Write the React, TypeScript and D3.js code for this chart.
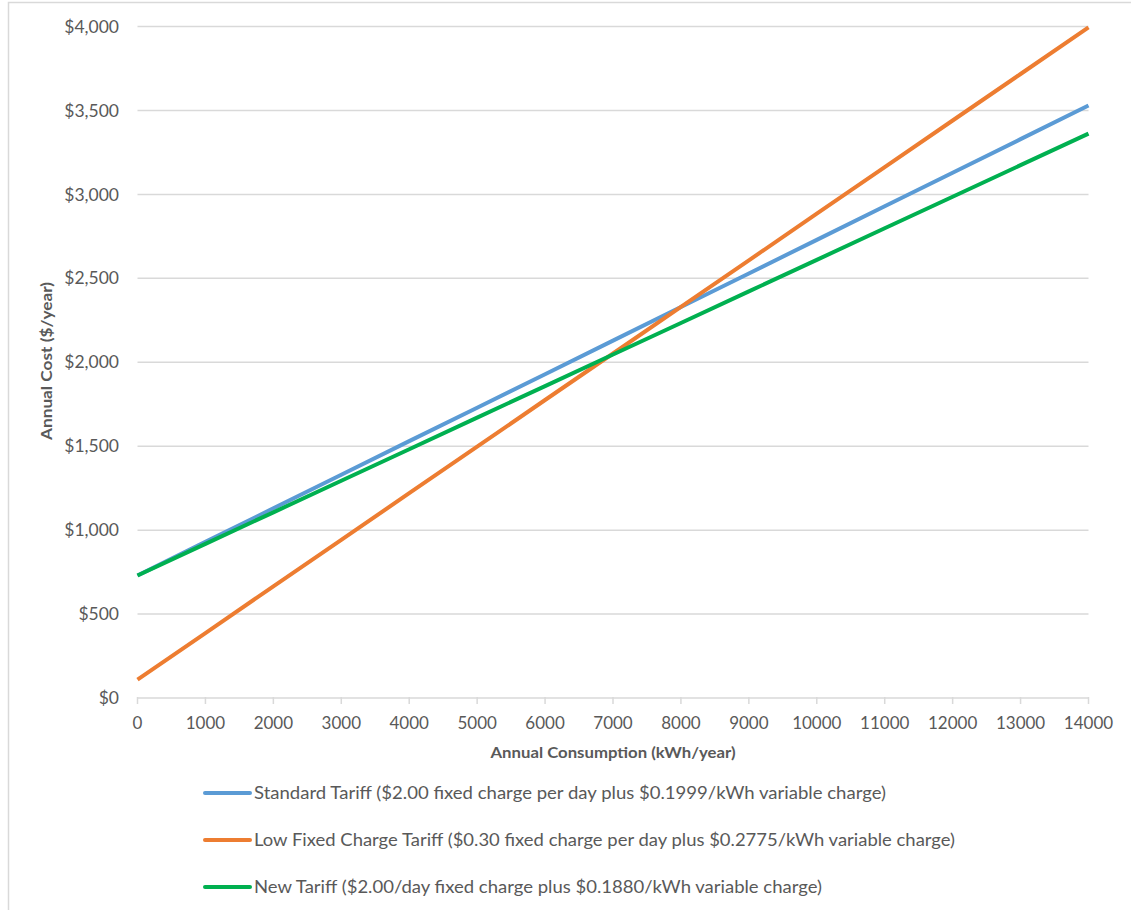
import React from "react";
import * as d3 from "d3";

const consumption = [0, 1000, 2000, 3000, 4000, 5000, 6000, 7000, 8000, 9000, 10000, 11000, 12000, 13000, 14000];
const standardTariff = [730, 930, 1130, 1330, 1530, 1729, 1929, 2129, 2329, 2529, 2729, 2929, 3129, 3329, 3529];
const lowFixedTariff = [110, 387, 665, 942, 1220, 1497, 1775, 2052, 2330, 2607, 2885, 3162, 3440, 3717, 3995];
const newTariff = [730, 918, 1106, 1294, 1482, 1670, 1858, 2046, 2234, 2422, 2610, 2798, 2986, 3174, 3362];
const yTicks = [0, 500, 1000, 1500, 2000, 2500, 3000, 3500, 4000];
const xTicks = [0, 1000, 2000, 3000, 4000, 5000, 6000, 7000, 8000, 9000, 10000, 11000, 12000, 13000, 14000];
const seriesNames = [
  "Standard Tariff ($2.00 fixed charge per day plus $0.1999/kWh variable charge)",
  "Low Fixed Charge Tariff ($0.30 fixed charge per day plus $0.2775/kWh variable charge)",
  "New Tariff ($2.00/day fixed charge plus $0.1880/kWh variable charge)",
];
const seriesColors = ["#5b9bd5", "#ed7d31", "#00b050"];

export default function App() {
  const W = 1131, H = 910;
  const x = d3.scaleLinear().domain([0, 14000]).range([137.5, 1088.5]);
  const y = d3.scaleLinear().domain([0, 4000]).range([698, 26.5]);
  const series = [standardTariff, lowFixedTariff, newTariff];
  const line = d3.line<number>().x((_, i) => x(consumption[i])).y((d) => y(d));
  const font = "Lato, 'Open Sans', sans-serif";
  const fmt = (v: number) => "$" + d3.format(",")(v);
  const legendY = [793, 840, 887];
  const legendLen = [632, 701, 568];
  return (
    <svg width={W} height={H} style={{ position: "absolute", left: 0, top: 0, background: "#fff" }} fontFamily={font}>
      <rect x={8.5} y={2.5} width={W + 10} height={H + 10} fill="#fff" stroke="#d9d9d9" strokeWidth={1.5} />
      {yTicks.filter((t) => t > 0).map((t) => (
        <line key={t} x1={x(0)} x2={x(14000)} y1={y(t)} y2={y(t)} stroke="#d9d9d9" strokeWidth={1.5} />
      ))}
      <line x1={x(0)} x2={x(14000)} y1={y(0)} y2={y(0)} stroke="#d9d9d9" strokeWidth={1.5} />
      {xTicks.map((t) => (
        <line key={t} x1={x(t)} x2={x(t)} y1={y(0) - 1} y2={y(0) + 6} stroke="#d9d9d9" strokeWidth={1.5} />
      ))}
      {yTicks.map((t) => (
        <text key={t} x={119} y={y(t)} dy="0.35em" textAnchor="end" fontSize={17.5} fill="#595959">{fmt(t)}</text>
      ))}
      {xTicks.map((t) => (
        <text key={t} x={x(t)} y={723} dy="0.35em" textAnchor="middle" fontSize={17} fill="#595959">{t}</text>
      ))}
      <text x={613} y={753} dy="0.35em" textAnchor="middle" fontSize={15} fontWeight="bold" fill="#595959" textLength={245} lengthAdjust="spacingAndGlyphs">Annual Consumption (kWh/year)</text>
      <text transform={`translate(47,361) rotate(-90)`} dy="0.35em" textAnchor="middle" fontSize={15} fontWeight="bold" fill="#595959" textLength={158} lengthAdjust="spacingAndGlyphs">Annual Cost ($/year)</text>
      {series.map((s, i) => (
        <path key={i} d={line(s) || ""} fill="none" stroke={seriesColors[i]} strokeWidth={4} strokeLinejoin="round" />
      ))}
      {seriesNames.map((n, i) => (
        <g key={n}>
          <line x1={205} x2={250} y1={legendY[i]} y2={legendY[i]} stroke={seriesColors[i]} strokeWidth={4} strokeLinecap="round" />
          <text x={254} y={legendY[i]} dy="0.35em" fontSize={17.5} fill="#595959" textLength={legendLen[i]} lengthAdjust="spacingAndGlyphs">{n}</text>
        </g>
      ))}
    </svg>
  );
}
